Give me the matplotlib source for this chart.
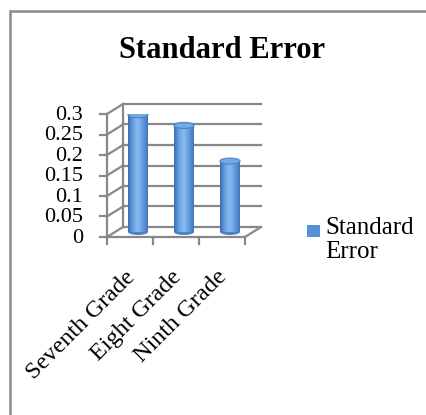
import matplotlib.pyplot as plt
import matplotlib.transforms as mtransforms
from matplotlib.patches import Ellipse, Rectangle
from matplotlib.colors import LinearSegmentedColormap
import numpy as np

categories = ['Seventh Grade', 'Eight Grade', 'Ninth Grade']
values = [0.286, 0.26, 0.173]
yticks = [0, 0.05, 0.1, 0.15, 0.2, 0.25, 0.3]
ytick_labels = ['0', '0.05', '0.1', '0.15', '0.2', '0.25', '0.3']
series_name = 'Standard Error'

plt.rcParams['font.family'] = ['Liberation Serif', 'DejaVu Serif']

W, H = 426, 415
fig = plt.figure(figsize=(W / 100, H / 100), dpi=100)
ax = fig.add_axes([107 / W, 178 / H, 138 / W, 123 / H])
ax.axis('off')

dpi = fig.dpi
def shift(dx, dy):
    return ax.transData + mtransforms.ScaledTranslation(dx / dpi, dy / dpi, fig.dpi_scale_trans)

back = shift(16, 10)
mid = shift(8, 5)
grid = '#888888'
xl, xr = -0.5, len(categories) - 0.5
ax.set_xlim(xl, xr)
ax.set_ylim(0, 0.3)
pix = mtransforms.IdentityTransform()

def seg(x, y, dx0, dy0, dx1, dy1):
    p = ax.transData.transform((x, y))
    ax.plot([p[0] + dx0, p[0] + dx1], [p[1] + dy0, p[1] + dy1], transform=pix,
            color=grid, lw=1.6, clip_on=False)

# back wall and side wall
for y in yticks:
    ax.plot([xl, xr], [y, y], transform=back, color=grid, lw=1.6, clip_on=False)
    seg(xl, y, 0, 0, 16, 10)
ax.plot([xl, xl], [0, 0.3], transform=back, color=grid, lw=1.6, clip_on=False)
seg(xr, 0, 0, 0, 16, 10)

# front axis lines and ticks
ax.plot([xl, xl], [0, 0.3], color=grid, lw=1.6, clip_on=False)
ax.plot([xl, xr], [0, 0], color=grid, lw=1.6, clip_on=False)
for y, lab in zip(yticks, ytick_labels):
    seg(xl, y, -7, 0, 0, 0)
    ax.text(xl, y, lab, transform=shift(-24, -1), ha='right', va='center', fontsize=16)
for x in np.arange(xl, xr + 0.5, 1.0):
    seg(x, 0, 0, 0, 0, -7)

# cylinder bars
cmap = LinearSegmentedColormap.from_list('cyl', ['#3a6fb3', '#6aa2e4', '#8cbaf0', '#639be0', '#4176ba'])
grad = np.linspace(0, 1, 64).reshape(1, -1)
bw = 20 * (xr - xl) / 138
eh = 6 * 0.3 / 123
for i, v in enumerate(values):
    x0 = i - bw / 2
    ax.add_patch(Ellipse((i, 0), bw, eh, transform=mid, facecolor='#4a82c8', edgecolor='none', zorder=3))
    rect = Rectangle((x0, 0), bw, v, transform=mid, facecolor='none', edgecolor='none')
    ax.add_patch(rect)
    im = ax.imshow(grad, extent=[x0, x0 + bw, 0, v], aspect='auto', cmap=cmap, zorder=3)
    im.set_transform(mid)
    im.set_clip_path(rect)
    ax.add_patch(Ellipse((i, v), bw, eh, transform=mid, facecolor='#74a9e8', edgecolor='#4a82c8',
                         lw=0.8, zorder=4))
ax.set_xlim(xl, xr)
ax.set_ylim(0, 0.3)

# category labels
for i, cat in enumerate(categories):
    ax.text(i, 0, cat, transform=shift(2, -37), rotation=45, rotation_mode='anchor',
            ha='right', va='center', fontsize=17.5)

# title
fig.text(222 / W, 1 - 50 / H, series_name, ha='center', va='center', fontsize=22, fontweight='bold')

# legend
fig.patches.append(Rectangle((307 / W, 1 - 237 / H), 13 / W, 12 / H, transform=fig.transFigure,
                             facecolor='#5590d8', edgecolor='none'))
fig.text(325 / W, 1 - 217 / H, 'Standard\nError', ha='left', va='top', fontsize=18, linespacing=1.1)

# outer frame
fig.patches.append(Rectangle((9.5 / W, -0.1), 1.0, 1 - 11.5 / H + 0.1, transform=fig.transFigure,
                             facecolor='none', edgecolor='#8a8a8a', lw=1.8))

fig.savefig('out.png', dpi=100)
